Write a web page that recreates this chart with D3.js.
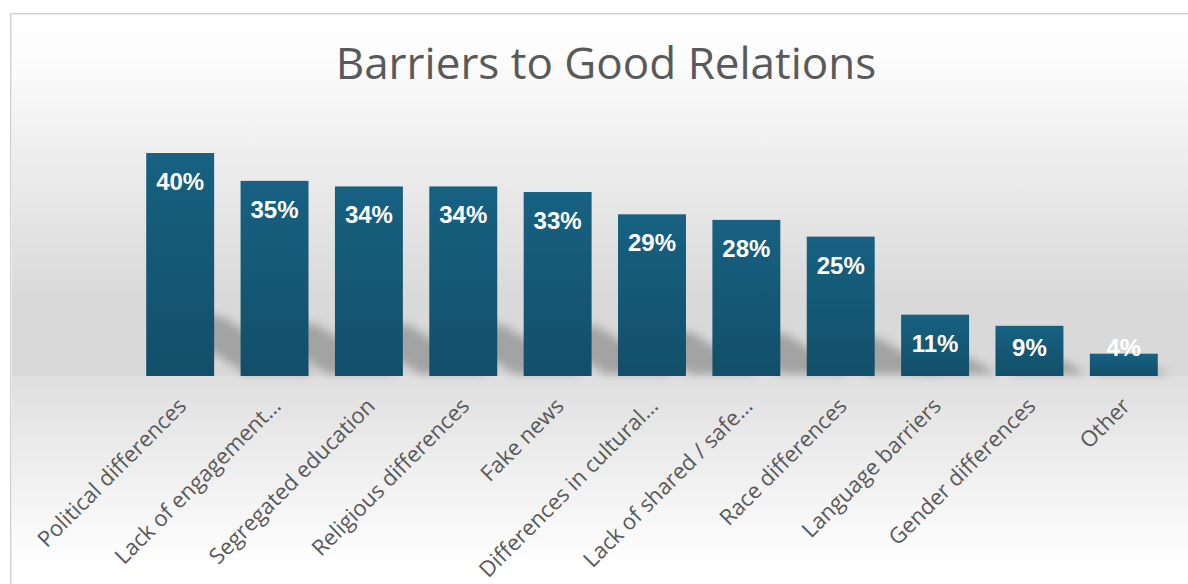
<!DOCTYPE html>
<html>
<head>
<meta charset="utf-8">
<script src="https://cdn.jsdelivr.net/npm/d3@7"></script>
<style>
  html, body { margin: 0; padding: 0; background: #ffffff; }
  svg { display: block; }
</style>
</head>
<body>
<svg id="chart" width="1188" height="584"></svg>
<script>
// Survey results: share of respondents naming each barrier
const categories = [
  "Political differences",
  "Lack of engagement\u2026",
  "Segregated education",
  "Religious differences",
  "Fake news",
  "Differences in cultural\u2026",
  "Lack of shared / safe\u2026",
  "Race differences",
  "Language barriers",
  "Gender differences",
  "Other"
];
const values = [40, 35, 34, 34, 33, 29, 28, 25, 11, 9, 4];
const valueLabels = ["40%", "35%", "34%", "34%", "33%", "29%", "28%", "25%", "11%", "9%", "4%"];
const chartTitle = "Barriers to Good Relations";

const data = categories.map((c, i) => ({ category: c, value: values[i], label: valueLabels[i] }));

const svg = d3.select("#chart");
const defs = svg.append("defs");

// Chart-area background: light at the top, grey around the bars, fading to white below
const bg = defs.append("linearGradient")
  .attr("id", "bgGrad")
  .attr("gradientUnits", "userSpaceOnUse")
  .attr("x1", 0).attr("y1", 13).attr("x2", 0).attr("y2", 584);
[[0, "#ffffff"], [0.08, "#fcfcfc"], [0.5, "#d9d9d9"], [0.6357, "#d9d9d9"], [0.637, "#dfdfdf"], [0.97, "#ffffff"], [1, "#ffffff"]]
  .forEach(([o, c]) => bg.append("stop").attr("offset", o).attr("stop-color", c));

// Bar fill: slightly lighter teal at the top
const barGrad = defs.append("linearGradient")
  .attr("id", "barGrad")
  .attr("x1", 0).attr("y1", 0).attr("x2", 0).attr("y2", 1);
barGrad.append("stop").attr("offset", 0).attr("stop-color", "#176182");
barGrad.append("stop").attr("offset", 1).attr("stop-color", "#124f69");

// Soft blur for the cast shadows
defs.append("filter")
  .attr("id", "shadowBlur")
  .attr("x", "-50%").attr("y", "-50%").attr("width", "200%").attr("height", "200%")
  .append("feGaussianBlur").attr("stdDeviation", 5);

// Frame
svg.append("rect")
  .attr("x", 10.5).attr("y", 13.5)
  .attr("width", 1200).attr("height", 600)
  .attr("fill", "url(#bgGrad)")
  .attr("stroke", "#d0d0d0")
  .attr("stroke-width", 1);
svg.append("rect")
  .attr("x", 11.5).attr("y", 14.5)
  .attr("width", 1200).attr("height", 600)
  .attr("fill", "none")
  .attr("stroke", "#ececec")
  .attr("stroke-width", 1);

// Scales
const x = d3.scaleBand()
  .domain(categories)
  .range([133, 1171])
  .paddingInner(0.28)
  .paddingOuter(0.14);

const y = d3.scaleLinear()
  .domain([0, 40])
  .range([376, 153]);

const y0 = y(0);

// Title
svg.append("text")
  .attr("x", 606)
  .attr("y", 79)
  .attr("text-anchor", "middle")
  .attr("font-family", "'Open Sans', sans-serif")
  .attr("font-size", 44)
  .attr("fill", "#595959")
  .text(chartTitle);

// Perspective shadows behind each bar: flattened and leaning to the right at the base
svg.append("g")
  .attr("filter", "url(#shadowBlur)")
  .selectAll("polygon")
  .data(data)
  .join("polygon")
  .attr("fill", "rgba(0,0,0,0.25)")
  .attr("points", d => {
    const x0 = x(d.category), w = x.bandwidth();
    const h = y0 - y(d.value);
    const sh = 0.26 * h, b = 0.45 * h, t = 0.03 * h;
    const base = y0 - 2;
    return [
      [x0 + b, base], [x0 + w + b, base],
      [x0 + w + t, base - sh], [x0 + t, base - sh]
    ].map(p => p.join(",")).join(" ");
  });

// Bars
svg.append("g")
  .selectAll("rect")
  .data(data)
  .join("rect")
  .attr("x", d => x(d.category))
  .attr("y", d => y(d.value))
  .attr("width", x.bandwidth())
  .attr("height", d => y0 - y(d.value))
  .attr("fill", "url(#barGrad)");

// Value labels just inside the top of each bar
svg.append("g")
  .selectAll("text")
  .data(data)
  .join("text")
  .attr("x", d => x(d.category) + x.bandwidth() / 2)
  .attr("y", d => Math.min(y(d.value) + 37, y0 - 20))
  .attr("text-anchor", "middle")
  .attr("font-family", "'Liberation Sans', Arial, sans-serif")
  .attr("font-weight", "bold")
  .attr("font-size", 24)
  .attr("fill", "#ffffff")
  .text(d => d.label);

// Category axis with rotated labels
const xAxis = svg.append("g")
  .attr("transform", `translate(0,${y0})`)
  .call(d3.axisBottom(x).tickSize(0).tickPadding(0));
xAxis.select(".domain").remove();
xAxis.selectAll(".tick text")
  .attr("font-family", "'Open Sans', sans-serif")
  .attr("font-size", 22)
  .attr("fill", "#595959")
  .attr("text-anchor", "end")
  .attr("dy", "0.35em")
  .attr("transform", "translate(2,26) rotate(-45)");
</script>
</body>
</html>
